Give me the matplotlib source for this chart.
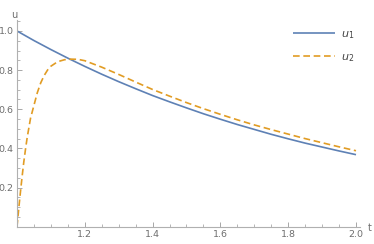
import matplotlib
matplotlib.use("Agg")
import matplotlib.pyplot as plt
from matplotlib.ticker import MultipleLocator, FixedLocator

t1 = [1.00, 1.05, 1.10, 1.15, 1.20, 1.25, 1.30, 1.35, 1.40, 1.45, 1.50,
      1.55, 1.60, 1.65, 1.70, 1.75, 1.80, 1.85, 1.90, 1.95, 2.00]
u1 = [1.000, 0.951, 0.905, 0.861, 0.819, 0.779, 0.741, 0.705, 0.670, 0.638, 0.607,
      0.577, 0.549, 0.522, 0.497, 0.472, 0.449, 0.427, 0.407, 0.387, 0.368]

t2 = [1.000, 1.005, 1.010, 1.015, 1.020, 1.025, 1.030, 1.040, 1.050, 1.060, 1.070,
      1.080, 1.090, 1.100, 1.120, 1.140, 1.160, 1.180, 1.200, 1.250, 1.300, 1.350,
      1.400, 1.450, 1.500, 1.550, 1.600, 1.650, 1.700, 1.750, 1.800, 1.850, 1.900,
      1.950, 2.000]
u2 = [0.000, 0.090, 0.175, 0.255, 0.330, 0.395, 0.455, 0.555, 0.620, 0.685, 0.735,
      0.772, 0.800, 0.820, 0.843, 0.853, 0.856, 0.855, 0.848, 0.815, 0.778, 0.739,
      0.701, 0.667, 0.634, 0.603, 0.574, 0.546, 0.520, 0.496, 0.473, 0.450, 0.429,
      0.408, 0.388]

xticks = [1.2, 1.4, 1.6, 1.8, 2.0]
xticklabels = ["1.2", "1.4", "1.6", "1.8", "2.0"]
yticks = [0.2, 0.4, 0.6, 0.8, 1.0]
yticklabels = ["0.2", "0.4", "0.6", "0.8", "1.0"]

blue = "#5E81B5"
orange = "#E19C24"
gray = "#999999"
tgray = "#6e6e6e"

fig = plt.figure(figsize=(3.74, 2.44), dpi=100)
ax = fig.add_axes([17/374, 17.3/244, 343/374, 206.7/244])
ax.plot(t1, u1, color=blue, lw=1.2, label="$u_1$", solid_capstyle="butt")
ax.plot(t2, u2, color=orange, lw=1.2, ls=(0, (4.0, 2.2)), label="$u_2$")

ax.set_xlim(1.0, 2.0118)
ax.set_ylim(0.0, 1.056)
for s in ["top", "right"]:
    ax.spines[s].set_visible(False)
for s in ["left", "bottom"]:
    ax.spines[s].set_color("#b0b0b0")
    ax.spines[s].set_linewidth(0.8)

ax.xaxis.set_major_locator(FixedLocator(xticks))
ax.set_xticklabels(xticklabels)
ax.yaxis.set_major_locator(FixedLocator(yticks))
ax.set_yticklabels(yticklabels)
ax.xaxis.set_minor_locator(MultipleLocator(0.05))
ax.yaxis.set_minor_locator(MultipleLocator(0.05))
ax.tick_params(which="major", direction="in", length=3.5, width=0.6, color=gray,
               labelsize=6.8, labelcolor=tgray, pad=2.5)
ax.tick_params(which="minor", direction="in", length=2, width=0.5, color=gray)

fig.text(14/374, 1 - 15/244, "u", color=tgray, fontsize=7, ha="center", va="center")
fig.text(370/374, 1 - 228/244, "t", color=tgray, fontsize=7, ha="center", va="center")

leg = ax.legend(loc="upper left", bbox_to_anchor=(293/374, 1 - 29/244),
                bbox_transform=fig.transFigure, frameon=False, fontsize=8,
                handlelength=3.75, handletextpad=0.6, labelspacing=1.0,
                borderaxespad=0, borderpad=0)
for txt in leg.get_texts():
    txt.set_color("#444444")

fig.savefig("out.png", dpi=100)
